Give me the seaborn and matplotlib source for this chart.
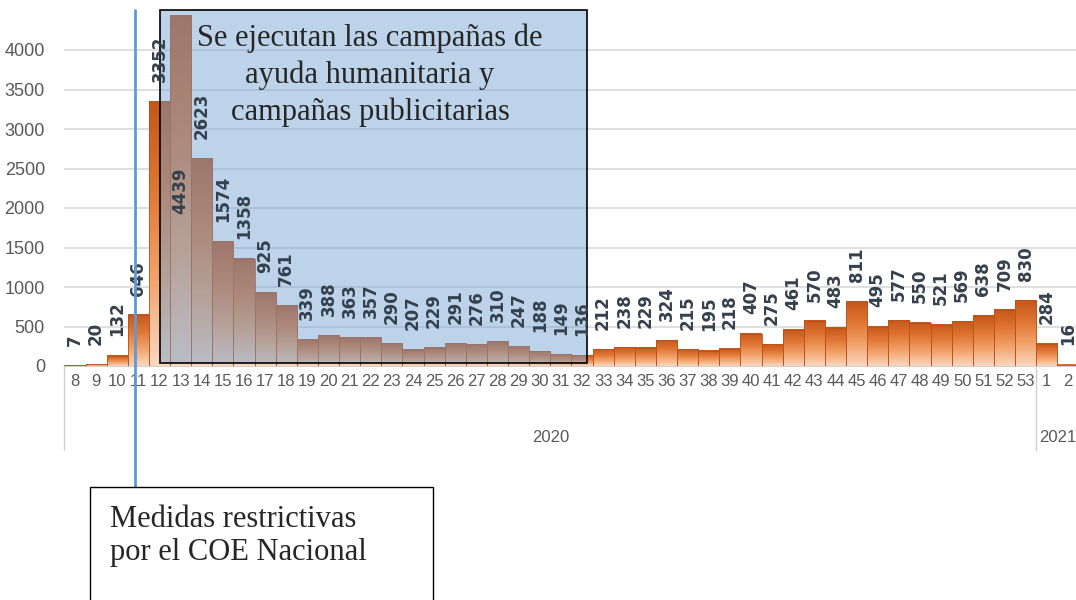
import numpy as np
import pandas as pd
import matplotlib
matplotlib.use("Agg")
import matplotlib.pyplot as plt
import matplotlib.transforms as mtransforms
from matplotlib.colors import LinearSegmentedColormap, to_rgba
from matplotlib.patches import Rectangle
from matplotlib.lines import Line2D
import seaborn as sns

# ------------------------------
# datos (semanas epidemiológicas)
# ------------------------------
semanas_2020 = [str(s) for s in range(8, 54)]
semanas_2021 = ["1", "2"]
casos = [7, 20, 132, 646, 3352, 4439, 2623, 1574, 1358, 925, 761, 339, 388, 363,
         357, 290, 207, 229, 291, 276, 310, 247, 188, 149, 136, 212, 238, 229, 324,
         215, 195, 218, 407, 275, 461, 570, 483, 811, 495, 577, 550, 521, 569, 638,
         709, 830, 284, 16]
anios = ["2020", "2021"]
y_ticks = [0, 500, 1000, 1500, 2000, 2500, 3000, 3500, 4000]

lineas_campanas = ["Se ejecutan las campañas de", "ayuda humanitaria y",
                   "campañas publicitarias"]
texto_medidas = "Medidas restrictivas\npor el COE Nacional"

semanas = semanas_2020 + semanas_2021
df = pd.DataFrame({"semana": semanas, "casos": casos})

sns.set_style("white")
plt.rcParams["font.family"] = ["Liberation Sans Narrow", "Liberation Sans", "DejaVu Sans"]

W, H = 1076, 600
fig = plt.figure(figsize=(W / 100, H / 100), dpi=100)
ax = fig.add_axes([64.4 / W, 1 - 366 / H, 1014 / W, 355.5 / H])

sns.barplot(data=df, x="semana", y="casos", order=semanas, width=1.0,
            color="#d9671f", ax=ax, zorder=2)

# degradado naranja en cada barra
naranja = LinearSegmentedColormap.from_list(
    "naranja", ["#fad8c0", "#f2a36c", "#e07634", "#c5561a"])
grad = np.linspace(0, 1, 256).reshape(-1, 1)
for p in ax.patches:
    x0, w, h = p.get_x(), p.get_width(), p.get_height()
    ax.imshow(grad, extent=[x0, x0 + w, 0, h], origin="lower", cmap=naranja,
              aspect="auto", zorder=2.5)
    p.set_facecolor("none")
    p.set_edgecolor("#b9531b")
    p.set_linewidth(0.6)
    p.set_zorder(3)

ax.set_xlim(-0.5, len(semanas) - 0.5)
ax.set_ylim(0, 4500)
ax.set_yticks(y_ticks)
ax.set_yticklabels([str(v) for v in y_ticks])
ax.yaxis.grid(True, color="#d9d9d9", lw=1.2, zorder=0)
ax.set_axisbelow(True)
ax.set_xlabel("")
ax.set_ylabel("")
for s in ["top", "right", "left"]:
    ax.spines[s].set_visible(False)
ax.spines["bottom"].set_color("#d0d0d0")
ax.tick_params(axis="y", length=0, pad=14, labelsize=13, labelcolor="#595959")
ax.tick_params(axis="x", length=0, pad=6, labelsize=12, labelcolor="#595959")
ax.set_xticks(np.arange(-0.5, len(semanas)), minor=True)
ax.tick_params(axis="x", which="minor", length=4, color="#c8c8c8", direction="out")

# etiquetas de datos
for i, v in enumerate(casos):
    if v > 4000:
        ax.text(i, v * 0.5, str(v), rotation=90, ha="center", va="center",
                fontsize=12, fontweight="bold", color="#34404c",
                family="DejaVu Sans", zorder=5)
    else:
        ax.annotate(str(v), (i, v), xytext=(0, 14), textcoords="offset points",
                    rotation=90, ha="center", va="bottom", fontsize=12,
                    fontweight="bold", color="#34404c", family="DejaVu Sans",
                    zorder=5)

# segundo nivel del eje: años
tr = mtransforms.blended_transform_factory(ax.transData, ax.transAxes)
n20 = len(semanas_2020)
for xs in [-0.5, n20 - 0.5]:
    ax.add_line(Line2D([xs, xs], [0, -0.236], transform=tr, color="#d0d0d0",
                       lw=1, clip_on=False))
ax.text((n20 - 1) / 2, -0.2025, anios[0], transform=tr, ha="center", va="center",
        fontsize=12, color="#595959")
ax.text(n20 + (len(semanas_2021) - 1) / 2, -0.2025, anios[1], transform=tr,
        ha="center", va="center", fontsize=12, color="#595959")

# recuadro azul de campañas (debajo de las etiquetas)
ax.add_patch(Rectangle((160 / W, 1 - 363 / H), 427 / W, 353 / H,
                       transform=fig.transFigure, clip_on=False,
                       facecolor=to_rgba("#6d9fd0", 0.45),
                       edgecolor="black", lw=1.2, zorder=4))
for k, linea in enumerate(lineas_campanas):
    fig.text(370 / W, 1 - (38 + 37 * k) / H, linea, ha="center", va="center",
             family="Liberation Serif", fontsize=22, zorder=6)

# línea de medidas restrictivas
fig.add_artist(Line2D([135 / W, 135 / W], [1 - 10 / H, 1 - 487 / H],
                      transform=fig.transFigure, color="#5b9bd5", lw=2, zorder=6))
fig.add_artist(Rectangle((90 / W, 1 - 612 / H), 343 / W, 125 / H,
                         transform=fig.transFigure, facecolor="white",
                         edgecolor="black", lw=1, zorder=6))
fig.text(110 / W, 1 - 536 / H, texto_medidas, ha="left", va="center",
         family="Liberation Serif", fontsize=22, linespacing=1.2, zorder=7)

fig.savefig("out.png", dpi=100)
